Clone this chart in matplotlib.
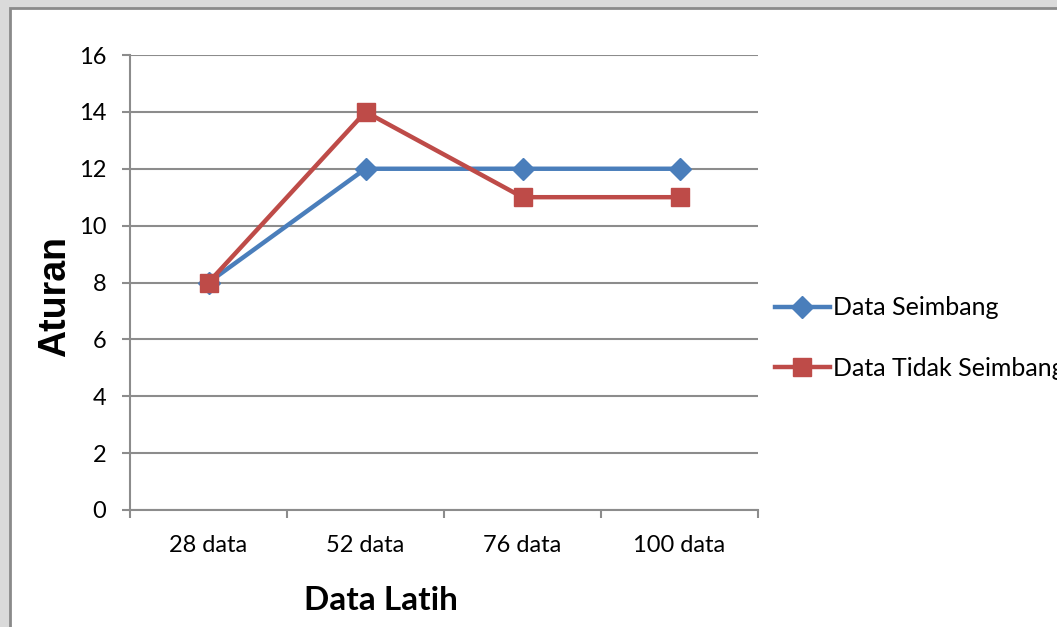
import matplotlib.pyplot as plt
from matplotlib.patches import Rectangle

categories = ['28 data', '52 data', '76 data', '100 data']
seimbang = [8, 12, 12, 12]
tidak_seimbang = [8, 14, 11, 11]
y_ticks = [0, 2, 4, 6, 8, 10, 12, 14, 16]

plt.rcParams['font.family'] = ['Lato', 'DejaVu Sans']

fig = plt.figure(figsize=(10.57, 6.27), dpi=100, facecolor='#dadada')
# white page with gray frame
fig.patches.append(Rectangle((10 / 1057, -0.01), 1.01, 1 - 8 / 627 + 0.01,
                             transform=fig.transFigure, facecolor='white',
                             edgecolor='#8a8a8a', lw=2, zorder=-10))

ax = fig.add_axes([130 / 1057, 1 - 510 / 627, 628 / 1057, 455 / 627])
ax.set_facecolor('none')

x = list(range(len(categories)))
ax.plot(x, seimbang, color='#4a7ebb', lw=3.2, marker='D', ms=11,
        label='Data Seimbang', zorder=3)
ax.plot(x, tidak_seimbang, color='#be4b48', lw=3.2, marker='s', ms=13,
        label='Data Tidak Seimbang', zorder=4)

ax.set_xlim(-0.5, len(categories) - 0.5)
ax.set_ylim(0, 16)
ax.set_yticks(y_ticks)
ax.yaxis.grid(True, color='#8c8c8c', lw=1.5)
ax.set_axisbelow(True)

ax.set_xticks(x)
ax.set_xticklabels(categories, fontsize=17)
ax.set_xticks([i - 0.5 for i in range(len(categories) + 1)], minor=True)
ax.tick_params(axis='x', which='major', length=0, pad=18)
ax.tick_params(axis='x', which='minor', length=6, width=1.5, color='#8c8c8c')
ax.tick_params(axis='y', length=6, width=1.5, color='#8c8c8c', labelsize=17, pad=11)

for s in ['top', 'right']:
    ax.spines[s].set_visible(False)
for s in ['left', 'bottom']:
    ax.spines[s].set_color('#8c8c8c')
    ax.spines[s].set_linewidth(1.5)

ax.set_xlabel('Data Latih', fontsize=24, fontweight='bold')
ax.set_ylabel('Aturan', fontsize=27, fontweight='bold', family='Liberation Sans')
ax.xaxis.set_label_coords(0.4, -0.168)
ax.yaxis.set_label_coords(-0.09, 0.47)

ax.legend(loc='center left', bbox_to_anchor=(1.027, 0.378), frameon=False,
          fontsize=18, handlelength=2.2, handletextpad=0.12, labelspacing=1.5,
          borderaxespad=0, borderpad=0)

fig.savefig('out.png', dpi=100, facecolor=fig.get_facecolor())
